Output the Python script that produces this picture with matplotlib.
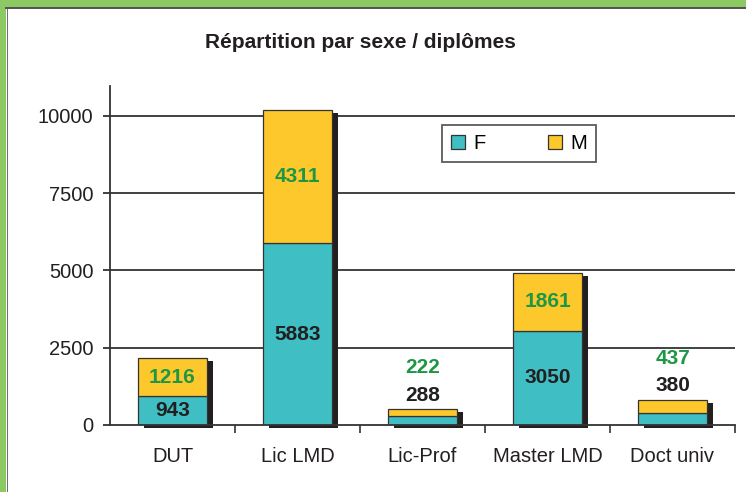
import matplotlib.pyplot as plt
import matplotlib.transforms as mtransforms
from matplotlib.patches import Rectangle
from matplotlib.lines import Line2D

plt.rcParams['font.family'] = ['Liberation Sans', 'DejaVu Sans']

categories = ["DUT", "Lic LMD", "Lic-Prof", "Master LMD", "Doct univ"]
femmes = [943, 5883, 288, 3050, 380]
hommes = [1216, 4311, 222, 1861, 437]
yticks = [0, 2500, 5000, 7500, 10000]

teal = "#3fbfc4"
yellow = "#fdc82c"
green_txt = "#1e9645"
dark = "#231f20"
border_green = "#8dc963"

fig = plt.figure(figsize=(7.46, 4.92), dpi=100)
W, H = 746, 492

# green frame on top and left
fig.patches.append(Rectangle((0, 1 - 7 / H), 1, 7 / H, transform=fig.transFigure,
                             facecolor=border_green, edgecolor="none"))
fig.patches.append(Rectangle((0, 0), 6 / W, 1, transform=fig.transFigure,
                             facecolor=border_green, edgecolor="none"))
fig.lines.append(Line2D([6 / W, 1], [1 - 8 / H, 1 - 8 / H], transform=fig.transFigure,
                        color="#333333", lw=1.2))
fig.lines.append(Line2D([6.5 / W, 6.5 / W], [0, 1 - 8 / H], transform=fig.transFigure,
                        color="#555555", lw=0.6))

ax = fig.add_axes([110 / W, 1 - 425 / H, (735 - 110) / W, (425 - 86) / H])
x = list(range(len(categories)))
width = 0.55
totals = [f + m for f, m in zip(femmes, hommes)]

# shadows
shadow = ax.transData + mtransforms.ScaledTranslation(6 / 100, -3 / 100, fig.dpi_scale_trans)
for xi, t in zip(x, totals):
    ax.add_patch(Rectangle((xi - width / 2, 0), width, t, transform=shadow,
                           facecolor="#231f20", edgecolor="none", zorder=2, clip_on=False))

ax.bar(x, femmes, width, color=teal, edgecolor="#333333", linewidth=0.9, zorder=3, label="F")
ax.bar(x, hommes, width, bottom=femmes, color=yellow, edgecolor="#333333", linewidth=0.9,
       zorder=3, label="M")

for xi, f, m, t in zip(x, femmes, hommes, totals):
    if t < 1000:
        ax.annotate(str(f), (xi, t), xytext=(0, 10), textcoords="offset points",
                    ha="center", va="center", fontsize=15, fontweight="bold", color=dark)
        ax.annotate(str(m), (xi, t), xytext=(0, 30), textcoords="offset points",
                    ha="center", va="center", fontsize=15, fontweight="bold", color=green_txt)
    else:
        ax.text(xi, f / 2, str(f), ha="center", va="center", fontsize=15,
                fontweight="bold", color=dark, zorder=4)
        ax.text(xi, f + m / 2, str(m), ha="center", va="center", fontsize=15,
                fontweight="bold", color=green_txt, zorder=4)

ax.set_xlim(-0.5, len(categories) - 0.5)
ax.set_ylim(0, 10970)
ax.set_yticks(yticks)
ax.set_yticklabels([str(v) for v in yticks])
ax.tick_params(axis="y", direction="out", length=5, width=1.2, pad=7, labelsize=14.5,
               colors="#231f20")
ax.set_xticks(x)
ax.set_xticklabels(categories)
ax.tick_params(axis="x", which="major", length=0, pad=16, labelsize=14.5, colors="#231f20")
ax.set_xticks([i + 0.5 for i in x], minor=True)
ax.tick_params(axis="x", which="minor", direction="out", length=6, width=1.2, color="#333333")

for v in yticks[1:]:
    ax.axhline(v, color="#333333", lw=1.3, zorder=1)

for s in ["top", "right"]:
    ax.spines[s].set_visible(False)
for s in ["left", "bottom"]:
    ax.spines[s].set_color("#333333")
    ax.spines[s].set_linewidth(1.3)
    ax.spines[s].set_zorder(5)

leg = fig.legend(loc="upper left", bbox_to_anchor=(442 / W, 1 - 125 / H), ncol=2,
                 frameon=True, fancybox=False, edgecolor="#333333", fontsize=14.5,
                 handlelength=0.7, handleheight=0.7, handletextpad=0.4,
                 columnspacing=3.1, borderpad=0.45, borderaxespad=0)
leg.get_frame().set_linewidth(1.3)

fig.text(360 / W, 1 - 42 / H, "Répartition par sexe / diplômes", ha="center", va="center",
         fontsize=15, fontweight="bold", color="#231f20")

fig.savefig("out.png", dpi=100, facecolor="white")
